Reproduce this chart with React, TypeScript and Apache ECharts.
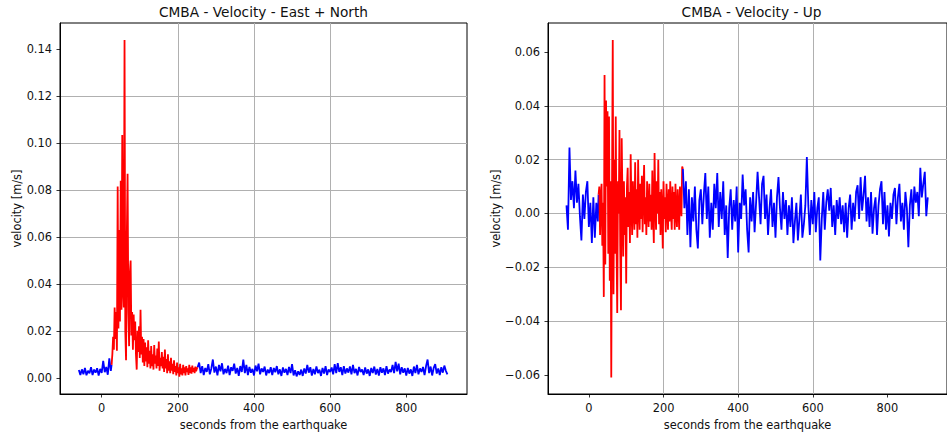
import React, { useEffect, useRef } from "react";
import * as echarts from "echarts";

// sampling (seconds from the earthquake)
const T_PRE_START = -60;
const PRE_STEP = 4;
const T_EVENT_START = 26;
const EVENT_STEP = 2;
const T_POST_START = 252;
const POST_STEP = 4;

const TITLE_EN = "CMBA - Velocity - East + North";
const TITLE_UP = "CMBA - Velocity - Up";
const X_NAME = "seconds from the earthquake";
const Y_NAME = "velocity [m/s]";

const X_TICKS = [0, 200, 400, 600, 800];
const Y_TICKS_EN = [0, 0.02, 0.04, 0.06, 0.08, 0.1, 0.12, 0.14];
const Y_TICKS_UP = [-0.06, -0.04, -0.02, 0, 0.02, 0.04, 0.06];

// East + North velocity [m/s]
const EN_PRE = [
  0.0033, 0.0012, 0.0036, 0.0015, 0.0042, 0.0011, 0.003, 0.0019, 0.0045, 0.0012,
  0.0035, 0.0022, 0.0041, 0.001, 0.0038, 0.0021, 0.0072, 0.0024, 0.0046, 0.0013,
  0.0083, 0.003,
];
const EN_EVENT = [
  0.0055, 0.01, 0.0175, 0.012, 0.03, 0.0165, 0.028, 0.0115, 0.0815, 0.021,
  0.063, 0.024, 0.084, 0.029, 0.1035, 0.038, 0.03, 0.144, 0.02, 0.0075,
  0.061, 0.087, 0.028, 0.0135, 0.045, 0.05, 0.018, 0.028, 0.012, 0.027,
  0.016, 0.024, 0.01, 0.0035, 0.02, 0.011, 0.022, 0.0085, 0.029, 0.01,
  0.0175, 0.0065, 0.0165, 0.005, 0.015, 0.007, 0.013, 0.0045, 0.016, 0.006,
  0.0115, 0.004, 0.0135, 0.005, 0.01, 0.0035, 0.014, 0.006, 0.0095, 0.004,
  0.0125, 0.005, 0.0155, 0.003, 0.0085, 0.005, 0.011, 0.004, 0.009, 0.0025,
  0.012, 0.004, 0.008, 0.002, 0.01, 0.003, 0.007, 0.002, 0.0085, 0.003,
  0.006, 0.0015, 0.0075, 0.0025, 0.005, 0.001, 0.0065, 0.002, 0.0045, 0.0005,
  0.006, 0.0015, 0.004, 0.001, 0.0055, 0.002, 0.0045, 0.001, 0.005, 0.0025,
  0.004, 0.0012, 0.0055, 0.002, 0.0045, 0.0018, 0.0052, 0.0025, 0.0042, 0.002,
  0.0048, 0.0028, 0.004,
];
const EN_POST = [
  0.0045, 0.0065, 0.002, 0.005, 0.0012, 0.0042, 0.0025, 0.0058, 0.0015, 0.004,
  0.0078, 0.0022, 0.0048, 0.001, 0.0055, 0.0028, 0.0062, 0.0015, 0.0038, 0.002,
  0.0052, 0.0012, 0.0045, 0.003, 0.006, 0.0018, 0.0042, 0.0008, 0.005, 0.0025,
  0.0078, 0.002, 0.0055, 0.0012, 0.0046, 0.0022, 0.0038, 0.001, 0.0052, 0.0028,
  0.006, 0.0015, 0.004, 0.0025, 0.0048, 0.001, 0.0035, 0.002, 0.0045, 0.0012,
  0.0042, 0.0024, 0.005, 0.0015, 0.0036, 0.0008, 0.0044, 0.0022, 0.0038, 0.0012,
  0.0046, 0.002, 0.0058, 0.001, 0.0032, 0.0006, 0.0028, 0.0012, 0.0035, 0.0008,
  0.004, 0.0018, 0.0055, 0.0022, 0.0045, 0.001, 0.0038, 0.0015, 0.0048, 0.002,
  0.0035, 0.0008, 0.0042, 0.0018, 0.005, 0.0012, 0.0036, 0.0025, 0.0044, 0.0015,
  0.0058, 0.002, 0.0062, 0.0025, 0.0045, 0.0012, 0.005, 0.0018, 0.004, 0.0022,
  0.0048, 0.0015, 0.0055, 0.002, 0.0038, 0.001, 0.0046, 0.0025, 0.0035, 0.0012,
  0.0044, 0.0018, 0.0036, 0.0008, 0.0042, 0.002, 0.0048, 0.0014, 0.0038, 0.001,
  0.0045, 0.0022, 0.004, 0.0012, 0.005, 0.0018, 0.0035, 0.0025, 0.0055, 0.002,
  0.0068, 0.0028, 0.006, 0.0015, 0.0045, 0.0022, 0.004, 0.001, 0.0042, 0.0018,
  0.0036, 0.0008, 0.0048, 0.002, 0.0055, 0.0015, 0.004, 0.0025, 0.0046, 0.0012,
  0.005, 0.0078, 0.002, 0.0048, 0.001, 0.0042, 0.0058, 0.0018, 0.004, 0.0012,
  0.0045, 0.0022, 0.0052, 0.003, 0.0015,
];

// Up velocity [m/s]
const UP_PRE = [
  0.003, -0.006, 0.0245, 0.005, 0.012, 0.002, 0.016, 0.004, 0.011, -0.001,
  -0.01, 0.007, -0.002, 0.008, 0.012, -0.005, 0.004, -0.011, 0.006, -0.009,
  0.004, -0.003,
];
const UP_EVENT = [
  0.007, 0.01, -0.008, 0.006, 0.011, -0.012, 0.004, -0.031, 0.0515, -0.019,
  0.042, 0.01, 0.038, -0.015, 0.036, -0.025, 0.012, -0.061, 0.01, 0.0645,
  -0.03, 0.02, -0.015, 0.036, -0.01, -0.037, 0.012, 0.0, 0.031, -0.012,
  -0.036, 0.028, 0.005, -0.016, 0.012, -0.008, 0.006, -0.026, 0.01, 0.017,
  -0.005, 0.008, -0.011, 0.022, 0.003, -0.008, 0.012, 0.002, -0.006, 0.019,
  -0.004, 0.009, -0.009, 0.02, 0.002, -0.006, 0.011, -0.002, 0.014, -0.007,
  0.008, 0.018, -0.004, 0.006, -0.008, 0.012, 0.003, -0.005, 0.011, -0.003,
  0.007, -0.006, 0.016, 0.001, -0.011, 0.0225, 0.004, -0.006, 0.012, 0.0,
  0.02, -0.004, 0.008, -0.008, 0.009, 0.002, -0.013, 0.012, -0.002, 0.006,
  -0.007, 0.011, 0.002, -0.006, 0.009, -0.003, 0.012, 0.001, -0.006, 0.01,
  -0.002, 0.008, -0.006, 0.011, 0.0, -0.005, 0.009, 0.002, -0.006, 0.01,
  0.004, -0.001, 0.0175,
];
const UP_POST = [
  0.0165, 0.002, 0.012, -0.008, 0.009, -0.0125, 0.006, -0.003, 0.01, -0.006,
  -0.013, 0.005, 0.009, -0.004, 0.007, 0.015, -0.002, 0.01, -0.009, 0.004,
  -0.006, 0.011, 0.002, 0.015, -0.005, 0.008, -0.002, 0.012, -0.008, 0.003,
  -0.0165, 0.002, 0.009, -0.006, 0.005, -0.003, 0.01, -0.0145, 0.004, -0.002,
  0.0145, 0.003, 0.009, -0.006, -0.0145, 0.006, -0.003, 0.008, -0.007, 0.004,
  0.0155, 0.006, -0.004, 0.011, 0.014, -0.002, 0.007, -0.008, 0.002, 0.009,
  -0.005, 0.004, -0.009, 0.006, 0.0135, 0.002, -0.006, 0.008, -0.002, 0.005,
  -0.008, 0.003, -0.005, 0.006, -0.011, -0.003, 0.004, -0.01, -0.002, 0.007,
  -0.009, -0.004, 0.003, 0.021, 0.003, -0.008, 0.005, -0.004, 0.008, -0.007,
  0.002, 0.006, -0.0175, -0.002, 0.008, -0.006, 0.004, 0.009, 0.001, 0.0095,
  -0.005, 0.003, -0.008, 0.005, -0.002, 0.006, -0.004, 0.003, -0.007, 0.004,
  -0.009, 0.002, 0.007, -0.006, 0.004, -0.003, 0.008, 0.0105, -0.002, 0.0135,
  0.001, 0.007, 0.014, -0.003, 0.006, -0.005, 0.008, -0.0075, 0.002, 0.006,
  -0.008, 0.003, 0.009, 0.012, -0.004, 0.008, -0.006, 0.003, -0.0085, 0.004,
  -0.002, 0.007, 0.0095, -0.004, 0.006, 0.011, -0.003, 0.004, -0.006, 0.008,
  0.002, -0.0125, 0.003, 0.009, -0.002, 0.01, 0.004, 0.008, -0.001, 0.017,
  0.006, 0.011, 0.0155, -0.001, 0.006,
];

const BLUE = "#0000ff";
const RED = "#ff0000";
const FONT = "DejaVu Sans";
const TEXT = "#111111";
const LINE_W = 1.8;

function seg(values: number[], start: number, step: number): number[][] {
  return values.map((v, i) => [start + i * step, v]);
}

function fmtY(v: number): string {
  if (Math.abs(v) < 1e-9) return "0.00";
  return v < 0 ? "\u2212" + (-v).toFixed(2) : v.toFixed(2);
}

function panelSeries(pre: number[], ev: number[], post: number[], idx: number) {
  const preData = seg(pre, T_PRE_START, PRE_STEP).concat([[T_EVENT_START, ev[0]]]);
  const evData = seg(ev, T_EVENT_START, EVENT_STEP).concat([[T_POST_START, post[0]]]);
  const postData = seg(post, T_POST_START, POST_STEP);
  const base = {
    type: "line",
    xAxisIndex: idx,
    yAxisIndex: idx,
    showSymbol: false,
    symbol: "none",
    silent: true,
  };
  return [
    { ...base, data: preData, lineStyle: { color: BLUE, width: LINE_W }, z: 3 },
    { ...base, data: evData, lineStyle: { color: RED, width: LINE_W }, z: 3 },
    { ...base, data: postData, lineStyle: { color: BLUE, width: LINE_W }, z: 3 },
  ];
}

export default function App() {
  const ref = useRef<HTMLDivElement>(null);
  useEffect(() => {
    if (!ref.current) return;
    const chart = echarts.init(ref.current, null, { renderer: "svg" });
    const splitLine = {
      show: true,
      showMinLine: false,
      showMaxLine: false,
      lineStyle: { color: "#b0b0b0", width: 1 },
    };
    const axisLine = { show: true, onZero: false, lineStyle: { color: "#000", width: 1 } };
    const axisTick = { show: true, inside: false, length: 3.5, lineStyle: { color: "#000", width: 0.8 } };
    const xAxis = (gridIndex: number) => ({
      type: "value",
      gridIndex,
      min: -109.5,
      max: 959.5,
      minInterval: 200,
      maxInterval: 200,
      name: X_NAME,
      nameLocation: "middle",
      nameGap: 25,
      nameTextStyle: { fontFamily: FONT, fontSize: 11.4, color: TEXT },
      axisLine,
      axisTick: { ...axisTick, customValues: X_TICKS },
      axisLabel: {
        fontFamily: FONT,
        fontSize: 11.4,
        color: TEXT,
        margin: 8,
        customValues: X_TICKS,
        formatter: (v: number) => String(v),
      },
      splitLine,
    });
    const yAxis = (gridIndex: number, min: number, max: number, ticks: number[], gap: number) => ({
      type: "value",
      gridIndex,
      min,
      max,
      minInterval: 0.02,
      maxInterval: 0.02,
      name: Y_NAME,
      nameLocation: "middle",
      nameRotate: 90,
      nameGap: gap,
      nameTextStyle: { fontFamily: FONT, fontSize: 11.4, color: TEXT },
      axisLine,
      axisTick: { ...axisTick, customValues: ticks },
      axisLabel: {
        fontFamily: FONT,
        fontSize: 11.4,
        color: TEXT,
        margin: 8,
        customValues: ticks,
        formatter: (v: number) => fmtY(v),
      },
      splitLine,
    });
    chart.setOption({
      animation: false,
      backgroundColor: "#ffffff",
      grid: [
        { left: 60, top: 23, width: 407, height: 374, show: true, borderColor: "#000", borderWidth: 1, backgroundColor: "transparent" },
        { left: 548, top: 23, width: 407, height: 374, show: true, borderColor: "#000", borderWidth: 1, backgroundColor: "transparent" },
      ],
      xAxis: [xAxis(0), xAxis(1)],
      yAxis: [
        yAxis(0, -0.0069, 0.1512, Y_TICKS_EN, 37),
        yAxis(1, -0.0671, 0.0708, Y_TICKS_UP, 46),
      ],
      graphic: [
        {
          type: "text",
          x: 263.5,
          y: 12,
          style: { text: TITLE_EN, fontFamily: FONT, fontSize: 13.7, fill: TEXT, textAlign: "center", textVerticalAlign: "middle" },
        },
        {
          type: "text",
          x: 751.5,
          y: 12,
          style: { text: TITLE_UP, fontFamily: FONT, fontSize: 13.7, fill: TEXT, textAlign: "center", textVerticalAlign: "middle" },
        },
      ],
      series: [
        ...panelSeries(EN_PRE, EN_EVENT, EN_POST, 0),
        ...panelSeries(UP_PRE, UP_EVENT, UP_POST, 1),
      ],
    });
    return () => chart.dispose();
  }, []);
  return (
    <div
      ref={ref}
      style={{ position: "fixed", left: 0, top: 0, width: 947, height: 435, background: "#fff" }}
    />
  );
}
